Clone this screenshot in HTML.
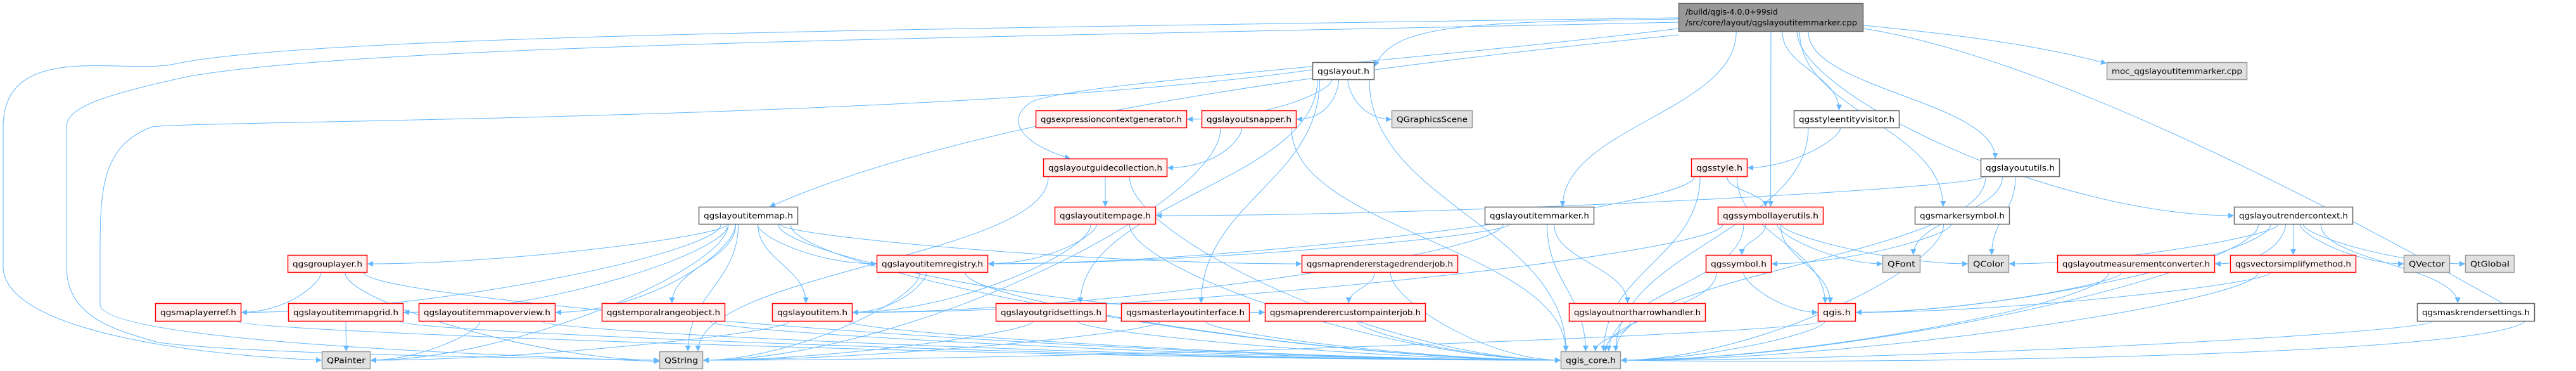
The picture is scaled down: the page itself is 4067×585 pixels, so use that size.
<!DOCTYPE html>
<html><head><meta charset="utf-8"><style>
html,body{margin:0;padding:0;background:#fff;}
svg{display:block;font-family:"DejaVu Sans","Liberation Sans",sans-serif;}
</style></head><body>
<svg id="s" width="4067" height="585" viewBox="0 0 4067 585" xmlns="http://www.w3.org/2000/svg">
<defs><marker id="a" viewBox="0 0 10 10" refX="10" refY="5" markerWidth="9" markerHeight="9" markerUnits="userSpaceOnUse" orient="auto"><path d="M0,0 L10,5 L0,10 z" fill="#63b8ff"/></marker></defs>
<g id="edges" fill="none" stroke="#63b8ff" stroke-width="1"></g>
<g id="nodes" font-size="12.5"></g>
</svg>
<script>
var N={
T:[2650,2942,5,50,'top',''],
layout:[2072,2170,98,126,'w','qgslayout.h'],
moc:[3326,3548,98,126,'g','moc_qgslayoutitemmarker.cpp'],
exprgen:[1635,1874,174,202,'r','qgsexpressioncontextgenerator.h'],
snapper:[1897,2047,174,202,'r','qgslayoutsnapper.h'],
QGS:[2197,2325,174,202,'g','QGraphicsScene'],
sev:[2832,2999,174,202,'w','qgsstyleentityvisitor.h'],
guide:[1647,1843,250,279,'r','qgslayoutguidecollection.h'],
style:[2670,2759,250,279,'r','qgsstyle.h'],
utils:[3127,3252,250,279,'w','qgslayoututils.h'],
itemmap:[1103,1260,326,354,'w','qgslayoutitemmap.h'],
itempage:[1665,1825,326,354,'r','qgslayoutitempage.h'],
marker:[2344,2517,326,354,'w','qgslayoutitemmarker.h'],
slu:[2712,2879,326,354,'r','qgssymbollayerutils.h'],
markersym:[3023,3173,326,354,'w','qgsmarkersymbol.h'],
rctx:[3527,3715,326,354,'w','qgslayoutrendercontext.h'],
grouplayer:[454,580,402,430,'r','qgsgrouplayer.h'],
registry:[1384,1560,402,430,'r','qgslayoutitemregistry.h'],
staged:[2055,2302,402,430,'r','qgsmaprendererstagedrenderjob.h'],
symbol:[2693,2797,402,430,'r','qgssymbol.h'],
QFont:[2972,3032,402,430,'g','QFont'],
QColor:[3107,3172,402,430,'g','QColor'],
measconv:[3248,3497,402,430,'r','qgslayoutmeasurementconverter.h'],
vsm:[3521,3720,402,430,'r','qgsvectorsimplifymethod.h'],
QVector:[3795,3868,402,430,'g','QVector'],
QtGlobal:[3892,3970,402,430,'g','QtGlobal'],
maplayerref:[245,381,478,507,'r','qgsmaplayerref.h'],
mapgrid:[455,637,478,507,'r','qgslayoutitemmapgrid.h'],
mapoverview:[661,877,478,507,'r','qgslayoutitemmapoverview.h'],
temporal:[950,1145,478,507,'r','qgstemporalrangeobject.h'],
item:[1219,1346,478,507,'r','qgslayoutitem.h'],
gridsettings:[1572,1747,478,507,'r','qgslayoutgridsettings.h'],
master:[1770,1973,478,507,'r','qgsmasterlayoutinterface.h'],
custom:[1997,2251,478,507,'r','qgsmaprenderercustompainterjob.h'],
north:[2477,2693,478,507,'r','qgslayoutnortharrowhandler.h'],
qgis:[2870,2930,478,507,'r','qgis.h'],
mask:[3816,4002,478,507,'w','qgsmaskrendersettings.h'],
QPainter:[508,585,554,582,'g','QPainter'],
QString:[1041,1110,554,582,'g','QString'],
core:[2464,2559,554,582,'g','qgis_core.h']
};
var NS='http://www.w3.org/2000/svg';
function el(t,a,p){var e=document.createElementNS(NS,t);for(var k in a)e.setAttribute(k,a[k]);p.appendChild(e);return e;}
var G=document.getElementById('nodes'),E=document.getElementById('edges');
var sty={top:['#999999','#666666'],w:['#ffffff','#666666'],g:['#e0e0e0','#999999'],r:['#fff0f0','#ff0000']};
for(var k in N){var n=N[k],s=sty[n[4]];
el('rect',{x:n[0]+0.5,y:n[2]+0.5,width:n[1]-n[0]-1,height:n[3]-n[2]-1,fill:s[0],stroke:s[1],'stroke-width':1.5},G);
if(k=='T'){
 var t=el('text',{x:2661,y:23,fill:'#000'},G);t.textContent='/build/qgis-4.0.0+99sid';
 t=el('text',{x:2661,y:40,fill:'#000',textLength:271,lengthAdjust:'spacingAndGlyphs'},G);t.textContent='/src/core/layout/qgslayoutitemmarker.cpp';
}else{
 var w=n[1]-n[0]-16;
 var t=el('text',{x:(n[0]+n[1])/2,y:(n[2]+n[3])/2+4.5,'text-anchor':'middle',fill:'#000',textLength:w,lengthAdjust:'spacingAndGlyphs'},G);t.textContent=n[5];
}}
function P(d){el('path',{d:d,'marker-end':'url(#a)'},E);}
function e(a,b){var A=N[a],B=N[b];
 var sx=(A[0]+A[1])/2,sy=A[3],ex=(B[0]+B[1])/2,ey=B[2];
 var dx=ex-sx,dy=ey-sy;
 if(B[2]==A[2]){ // same row
  sy=(A[2]+A[3])/2;ey=sy; if(dx>0){sx=A[1];ex=B[0];}else{sx=A[0];ex=B[1];}
  P('M'+sx+','+sy+' L'+ex+','+ey);return;}
 if(Math.abs(dx)>2.5*dy){
  ey=(B[2]+B[3])/2; ex= dx>0?B[0]:B[1];
  sx=sx+Math.sign(dx)*Math.min((A[1]-A[0])/2-5,Math.abs(dx)*0.05);
  P('M'+sx+','+sy+' C'+sx+','+(sy+dy*0.35)+' '+(ex-Math.sign(dx)*Math.abs(dx)*0.35)+','+ey+' '+ex+','+ey);return;}
 sx=sx+dx*Math.min(0.25,(A[1]-A[0])*0.4/Math.max(1,Math.abs(dx))*Math.abs(dx)/Math.max(1,Math.abs(dx)))*0;
 sx=sx+Math.max(-(A[1]-A[0])/2+8,Math.min((A[1]-A[0])/2-8,dx*0.15));
 ex=ex-Math.max(-(B[1]-B[0])/2+8,Math.min((B[1]-B[0])/2-8,dx*0.1));
 P('M'+sx+','+sy+' C'+sx+','+(sy+dy*0.45)+' '+ex+','+(ey-dy*0.45)+' '+ex+','+ey);
}
var L=[
['T','marker'],['T','slu'],['T','sev'],['T','utils'],['T','rctx'],['T','markersym'],
['layout','exprgen'],['layout','snapper'],['layout','QGS'],['layout','gridsettings'],['layout','master'],['layout','core'],
['snapper','guide'],['snapper','core'],['snapper','QString'],
['guide','itempage'],['guide','core'],['guide','QString'],
['itempage','registry'],['itempage','item'],['itempage','core'],
['itemmap','grouplayer'],['itemmap','maplayerref'],['itemmap','mapgrid'],['itemmap','mapoverview'],['itemmap','temporal'],['itemmap','item'],['itemmap','registry'],['itemmap','staged'],['itemmap','custom'],['itemmap','QPainter'],['itemmap','QString'],['itemmap','core'],
['grouplayer','maplayerref'],['grouplayer','QString'],['grouplayer','core'],
['maplayerref','core'],['mapgrid','QPainter'],['mapgrid','core'],['mapoverview','QPainter'],['mapoverview','core'],['temporal','core'],
['registry','item'],['registry','QString'],['registry','core'],
['item','QPainter'],['item','core'],
['gridsettings','QString'],['gridsettings','core'],['master','QString'],['master','core'],
['staged','custom'],['staged','core'],['custom','core'],
['marker','registry'],['marker','item'],['marker','north'],['marker','core'],
['north','core'],
['sev','style'],['sev','core'],
['style','slu'],['style','qgis'],['style','core'],['style','registry'],
['slu','symbol'],['slu','qgis'],['slu','QFont'],['slu','QColor'],['slu','core'],['slu','item'],
['symbol','qgis'],['symbol','core'],
['qgis','core'],['qgis','QString'],
['markersym','symbol'],['markersym','core'],
['utils','itempage'],['utils','QFont'],['utils','QColor'],['utils','core'],
['rctx','measconv'],['rctx','vsm'],['rctx','QVector'],['rctx','QtGlobal'],['rctx','mask'],['rctx','QColor'],['rctx','qgis'],['rctx','core'],
['measconv','qgis'],['measconv','core'],['vsm','qgis'],['vsm','core'],['mask','core']
];
L.forEach(function(x){e(x[0],x[1]);});
// special long edges from top node
P('M2650,30 C2300,35 2200,40 2170,105');
P('M2942,40 C3150,60 3250,80 3326,100');
P('M2650,55 C2000,120 1500,200 1215,326');
P('M2650,45 C2200,100 1700,130 1630,160 C1580,190 1620,230 1690,250');
P('M2650,28 C1500,45 500,55 280,100 C200,120 5,60 5,200 L5,420 C5,520 300,560 508,568');
P('M2650,35 C1500,60 600,70 300,120 C160,150 105,170 105,200 L105,420 C105,500 180,520 250,540 C400,560 900,565 1041,568');
P('M2942,45 C3300,100 3900,450 3990,500 C4000,560 3000,575 2559,568');
P('M2072,110 C1500,190 300,190 240,200 C160,230 158,300 158,400 L158,480 C160,540 800,560 1041,570');
</script>
</body></html>
